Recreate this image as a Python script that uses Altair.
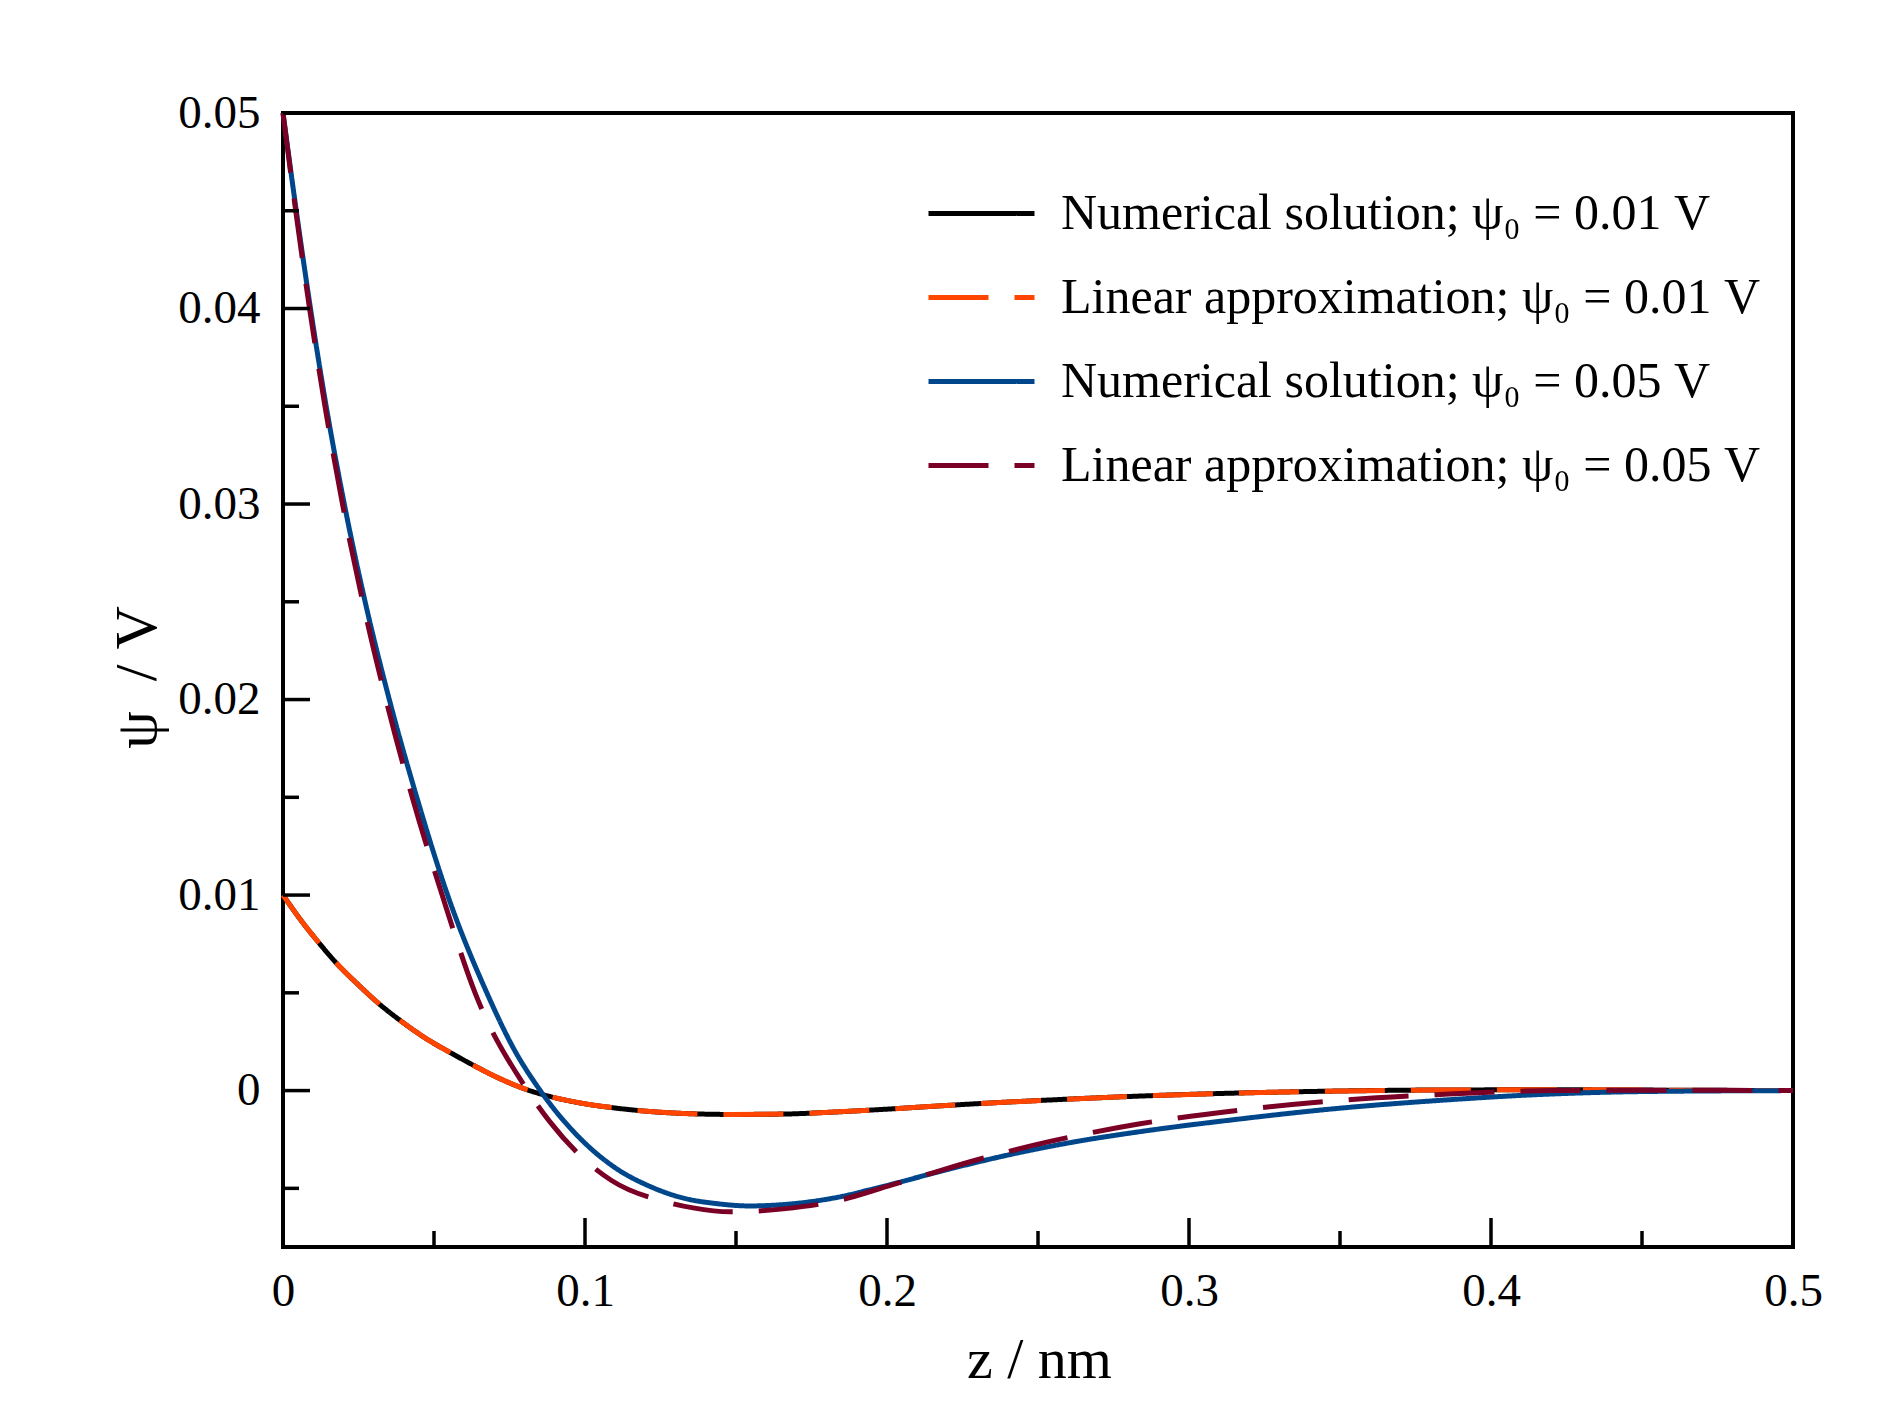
import altair as alt
import pandas as pd

# ---- data ----
series_names = [
    "Numerical solution; ψ₀ = 0.01 V",
    "Linear approximation; ψ₀ = 0.01 V",
    "Numerical solution; ψ₀ = 0.05 V",
    "Linear approximation; ψ₀ = 0.05 V",
]
series_colors = ["#000000", "#FF4500", "#00468B", "#7A0026"]
series_dashes = [[1, 0], [60, 26], [1, 0], [60, 26]]

z_01 = [0, 0.006, 0.0122, 0.0178, 0.025, 0.0321, 0.0387, 0.047, 0.0559, 0.063,
        0.072, 0.0807, 0.0884, 0.0994, 0.1105, 0.1215, 0.1326, 0.149, 0.1657,
        0.1822, 0.1988, 0.2264, 0.254, 0.2948, 0.339, 0.383, 0.42, 0.46, 0.5]
num_01 = [0.01, 0.0087, 0.0075, 0.0065, 0.0054, 0.0044, 0.0036, 0.0027, 0.0019, 0.0013,
          0.0006, 0.00005, -0.0003, -0.00066, -0.0009, -0.00107, -0.00117, -0.00122, -0.0012,
          -0.0011, -0.00096, -0.0007, -0.00048, -0.00022, -0.00005, 0.00003, 0.00004, 0.00002, 0.0]
lin_01 = [0.01, 0.0087, 0.0075, 0.0065, 0.0054, 0.0044, 0.0036, 0.0027, 0.0019, 0.0013,
          0.0006, 0.00005, -0.0003, -0.00066, -0.0009, -0.00107, -0.00117, -0.00122, -0.0012,
          -0.0011, -0.00096, -0.0007, -0.00048, -0.00022, -0.00005, 0.00003, 0.00004, 0.00002, 0.0]

z_num05 = [0, 0.0044, 0.0091, 0.0143, 0.0203, 0.0272, 0.0352, 0.0443, 0.0545, 0.0675,
           0.0762, 0.0852, 0.0994, 0.1105, 0.1215, 0.1326, 0.1436, 0.1546, 0.1657,
           0.1822, 0.1988, 0.2209, 0.2429, 0.2629, 0.2838, 0.3169, 0.35, 0.3831,
           0.4162, 0.45, 0.5]
num_05 = [0.05, 0.045, 0.04, 0.035, 0.030, 0.025, 0.020, 0.015, 0.010, 0.005,
          0.0022, 0.0, -0.0026, -0.0040, -0.0049, -0.0055, -0.00578, -0.0059, -0.00583,
          -0.0055, -0.0049, -0.0040, -0.0032, -0.0026, -0.0021, -0.00145, -0.0009, -0.0005,
          -0.0002, -0.00005, 0.0]

z_lin05 = [0, 0.0042, 0.0088, 0.0139, 0.0197, 0.0264, 0.0341, 0.0428, 0.0527, 0.0636,
           0.081, 0.0884, 0.1011, 0.1088, 0.127, 0.1358, 0.148, 0.1657, 0.1845, 0.2,
           0.2131, 0.2308, 0.254, 0.2838, 0.3169, 0.35, 0.3831, 0.42, 0.46, 0.5]
lin_05 = [0.05, 0.045, 0.04, 0.035, 0.030, 0.025, 0.020, 0.015, 0.010, 0.005,
          0.0, -0.0016, -0.0037, -0.0046, -0.0057, -0.0060, -0.0062, -0.00605, -0.0056, -0.0049,
          -0.0043, -0.0035, -0.0026, -0.0017, -0.0010, -0.0005, -0.0002, 0.0, 0.00002, 0.0]

x_major = [0, 0.1, 0.2, 0.3, 0.4, 0.5]
x_minor = [0.05, 0.15, 0.25, 0.35, 0.45]
y_major = [0, 0.01, 0.02, 0.03, 0.04, 0.05]
y_minor = [-0.005, 0.005, 0.015, 0.025, 0.035, 0.045]

# ---- tables ----
rows = []
for name, zs, ps in zip(series_names,
                        [z_01, z_01, z_num05, z_lin05],
                        [num_01, lin_01, num_05, lin_05]):
    for z, p in zip(zs, ps):
        rows.append({"series": name, "z": z, "psi": p})
df = pd.DataFrame(rows)

xmaj_df = pd.DataFrame({"t": x_major})
xmin_df = pd.DataFrame({"t": x_minor})
ymaj_df = pd.DataFrame({"t": y_major})
ymin_df = pd.DataFrame({"t": y_minor})

W, H = 1510, 1134
FONT = "Liberation Serif"

xs = alt.Scale(domain=[0, 0.5], nice=False, zero=False)
ys = alt.Scale(domain=[-0.008, 0.05], nice=False, zero=False)
cs = alt.Scale(domain=series_names, range=series_colors)
ds = alt.Scale(domain=series_names, range=series_dashes)

legend = alt.Legend(
    title=None, orient="none", legendX=643, legendY=45, padding=0,
    symbolType="stroke", symbolSize=106 * 106, symbolStrokeWidth=5,
    labelFont=FONT, labelFontSize=50, labelColor="black", labelLimit=0,
    labelOffset=24, rowPadding=3,
)

x_axis = alt.Axis(
    values=x_major, labelExpr="datum.value == 0 ? '0' : format(datum.value, '.1f')",
    ticks=False, domain=False, grid=False, labelFlush=False, labelOverlap=False,
    labelFont=FONT, labelFontSize=47, labelColor="black", labelPadding=21,
    title="z / nm", titleFont=FONT, titleFontSize=58, titleFontWeight="normal",
    titleColor="black", titleX=756, titleY=130, titleBaseline="alphabetic",
    titleAlign="center",
)
y_axis = alt.Axis(
    values=y_major, labelExpr="datum.value == 0 ? '0' : format(datum.value, '.2f')",
    ticks=False, domain=False, grid=False, labelFlush=False, labelOverlap=False,
    labelFont=FONT, labelFontSize=47, labelColor="black", labelPadding=23,
    title="ψ\u2002/ V", titleFont=FONT, titleFontSize=60, titleFontWeight="normal",
    titleColor="black", titleX=-128, titleY=564, titleBaseline="alphabetic",
    titleAlign="center", titleAngle=270,
)


def line_layer(name):
    return alt.Chart(df).transform_filter(
        alt.datum.series == name
    ).mark_line(strokeWidth=5, interpolate="monotone", strokeCap="butt").encode(
        x=alt.X("z:Q", scale=xs, axis=x_axis),
        y=alt.Y("psi:Q", scale=ys, axis=y_axis),
        color=alt.Color("series:N", scale=cs, legend=legend),
        strokeDash=alt.StrokeDash("series:N", scale=ds, legend=legend),
    )


layers = [line_layer(n) for n in series_names]

tick_x_major = alt.Chart(xmaj_df).mark_rule(color="black", strokeWidth=3.5).encode(
    x=alt.X("t:Q", scale=xs, axis=x_axis), y=alt.value(H), y2=alt.value(H - 29))
tick_x_minor = alt.Chart(xmin_df).mark_rule(color="black", strokeWidth=3.5).encode(
    x=alt.X("t:Q", scale=xs, axis=x_axis), y=alt.value(H), y2=alt.value(H - 16))
tick_y_major = alt.Chart(ymaj_df).mark_rule(color="black", strokeWidth=3.5).encode(
    y=alt.Y("t:Q", scale=ys, axis=y_axis), x=alt.value(0), x2=alt.value(27))
tick_y_minor = alt.Chart(ymin_df).mark_rule(color="black", strokeWidth=3.5).encode(
    y=alt.Y("t:Q", scale=ys, axis=y_axis), x=alt.value(0), x2=alt.value(16))

chart = alt.layer(
    *layers, tick_x_major, tick_x_minor, tick_y_major, tick_y_minor
).properties(
    width=W, height=H,
    background="white",
    autosize=alt.AutoSizeParams(type="none"),
    padding={"left": 275, "top": 105, "right": 80, "bottom": 160},
).configure_view(
    stroke="black", strokeWidth=4
)

chart.save("out.html", embed_options={"renderer": "svg", "actions": False})
